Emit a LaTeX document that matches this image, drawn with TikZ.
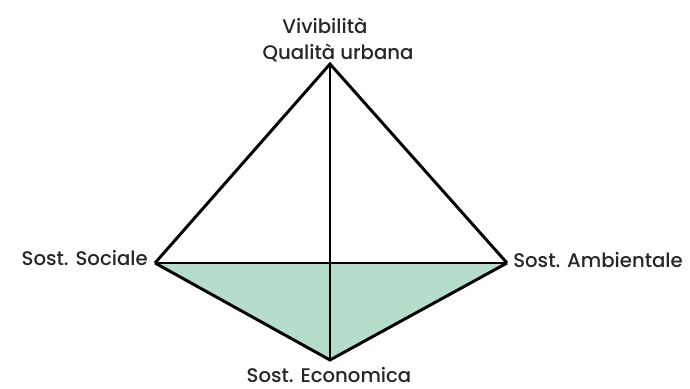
\documentclass[tikz,border=0pt]{standalone}
\usepackage{fontspec}
\setmainfont{Poppins}[UprightFont={* Medium}]
\definecolor{econgreen}{RGB}{181,221,201}
\begin{document}
\begin{tikzpicture}[
      x=0.025cm, y=-0.025cm,
      every node/.style={font=\fontsize{14}{16}\selectfont, inner sep=0pt},
      edge/.style={line width=2.1pt, line join=miter},
      label/.style={text=black!85},
    ]
    \useasboundingbox (0,0) rectangle (690,388);

    % corners of the pyramid
    \coordinate (top)    at (330, 64);
    \coordinate (social) at (155, 263);
    \coordinate (env)    at (507, 263);
    \coordinate (econ)   at (330, 360);

    % lower face
    \fill[econgreen] (social) -- (env) -- (econ) -- cycle;

    % edges
    \draw[edge] (social) -- (top) -- (env);
    \draw[edge] (social) -- (econ) -- (env);
    \draw[edge] (social) -- (env);
    \draw[edge] (top) -- (econ);

    % labels
    \node[label, anchor=base] (viv)  at (325, 33)  {Vivibilità};
    \node[label, anchor=base] (qual) at (338, 59)  {Qualità urbana};
    \node[label, anchor=base east] (soc) at (148, 265) {Sost. Sociale};
    \node[label, anchor=base west] (amb) at (513, 267) {Sost. Ambientale};
    \node[label, anchor=base] (eco)  at (329, 382) {Sost. Economica};
  \end{tikzpicture}
\end{document}
